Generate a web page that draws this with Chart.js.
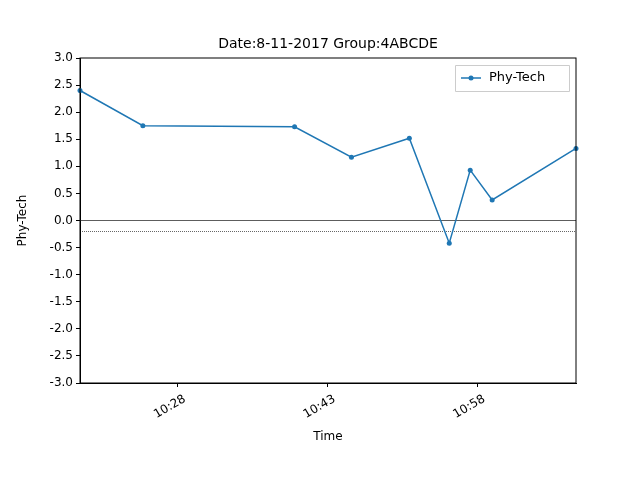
<!DOCTYPE html>
<html><head><meta charset="utf-8">
<script src="https://cdn.jsdelivr.net/npm/chart.js@4"></script>
<style>body{margin:0;background:#fff}#c{display:block}</style>
</head><body>
<canvas id="c" width="640" height="480"></canvas>
<script>
// times as minutes since midnight
var times = [618.2, 624.5, 639.7, 645.4, 651.2, 655.2, 657.3, 659.5, 667.9];
var values = [2.4, 1.75, 1.73, 1.17, 1.52, -0.42, 0.93, 0.38, 1.33];
var tickTimes = [628, 643, 658];
var yTicks = [-3, -2.5, -2, -1.5, -1, -0.5, 0, 0.5, 1, 1.5, 2, 2.5, 3];
var refLines = [0, -0.2];
var xMin = 618.2, xMax = 667.9;

function fmt(m){ var h=Math.floor(m/60), mm=Math.round(m-h*60); return h+':'+(mm<10?'0':'')+mm; }
var font = {family:'DejaVu Sans', size:12};

var textPlugin = {
  id:'texts',
  afterDraw:function(chart){
    var c=chart.ctx, a=chart.chartArea, xs=chart.scales.x;
    c.save();
    c.fillStyle='#000';
    c.font='14px DejaVu Sans'; c.textAlign='center'; c.textBaseline='middle';
    c.fillText('Date:8-11-2017 Group:4ABCDE', (a.left+a.right)/2, 44);
    c.font='12px DejaVu Sans';
    c.fillText('Time', (a.left+a.right)/2, 437);
    c.save(); c.translate(23,(a.top+a.bottom)/2); c.rotate(-Math.PI/2);
    c.fillText('Phy-Tech',0,0); c.restore();
    tickTimes.forEach(function(t){
      var px=xs.getPixelForValue(t);
      c.save(); c.translate(px+4, a.bottom+10); c.rotate(-Math.PI/6);
      c.textAlign='right'; c.textBaseline='top';
      c.fillText(fmt(t),0,0); c.restore();
    });
    // legend
    var x=a.right-121, y=a.top+7, w=114, h=26;
    c.fillStyle='rgba(255,255,255,0.8)'; c.strokeStyle='#ccc'; c.lineWidth=1;
    c.beginPath(); c.rect(x+0.5,y+0.5,w,h); c.fill(); c.stroke();
    c.strokeStyle='#1f77b4'; c.lineWidth=1.5;
    c.beginPath(); c.moveTo(x+6,y+13); c.lineTo(x+26,y+13); c.stroke();
    c.fillStyle='#1f77b4'; c.beginPath(); c.arc(x+16,y+13,2.5,0,Math.PI*2); c.fill();
    c.fillStyle='#000'; c.font='13px DejaVu Sans'; c.textAlign='left'; c.textBaseline='middle';
    c.fillText('Phy-Tech', x+34, y+13);
    c.strokeStyle='#000'; c.lineWidth=1;
    c.strokeRect(a.left,a.top,a.right-a.left,a.bottom-a.top);
    c.restore();
  }
};

new Chart(document.getElementById('c'), {
  type:'line',
  data:{
    datasets:[
      {label:'Phy-Tech', data:times.map(function(t,i){return {x:t,y:values[i]};}),
       borderColor:'#1f77b4', backgroundColor:'#1f77b4', borderWidth:1.5,
       pointRadius:2.5, pointBorderWidth:0, tension:0, clip:false},
      {data:[{x:xMin,y:refLines[0]},{x:xMax,y:refLines[0]}], borderColor:'#333', borderWidth:0.8, pointRadius:0},
      {data:[{x:xMin,y:refLines[1]},{x:xMax,y:refLines[1]}], borderColor:'#000', borderWidth:0.6, borderDash:[1,1], pointRadius:0}
    ]
  },
  options:{
    responsive:false, animation:false,
    layout:{padding:{left:0,right:64,top:58,bottom:0}},
    plugins:{legend:{display:false}, tooltip:{enabled:false}, title:{display:false}},
    scales:{
      x:{type:'linear', min:xMin, max:xMax,
        grid:{drawOnChartArea:false, tickLength:4, color:'#000'},
        border:{color:'#000'},
        afterBuildTicks:function(s){ s.ticks = tickTimes.map(function(v){return {value:v};}); },
        afterFit:function(s){ s.height=97; },
        ticks:{display:false}
      },
      y:{min:-3, max:3,
        grid:{drawOnChartArea:false, tickLength:4, color:'#000'},
        border:{color:'#000'},
        afterBuildTicks:function(s){ s.ticks = yTicks.map(function(v){return {value:v};}); },
        afterFit:function(s){ s.width=80; },
        ticks:{color:'#000', font:font, padding:3, callback:function(v){return v.toFixed(1);}}
      }
    }
  },
  plugins:[textPlugin]
});
</script>
</body></html>
